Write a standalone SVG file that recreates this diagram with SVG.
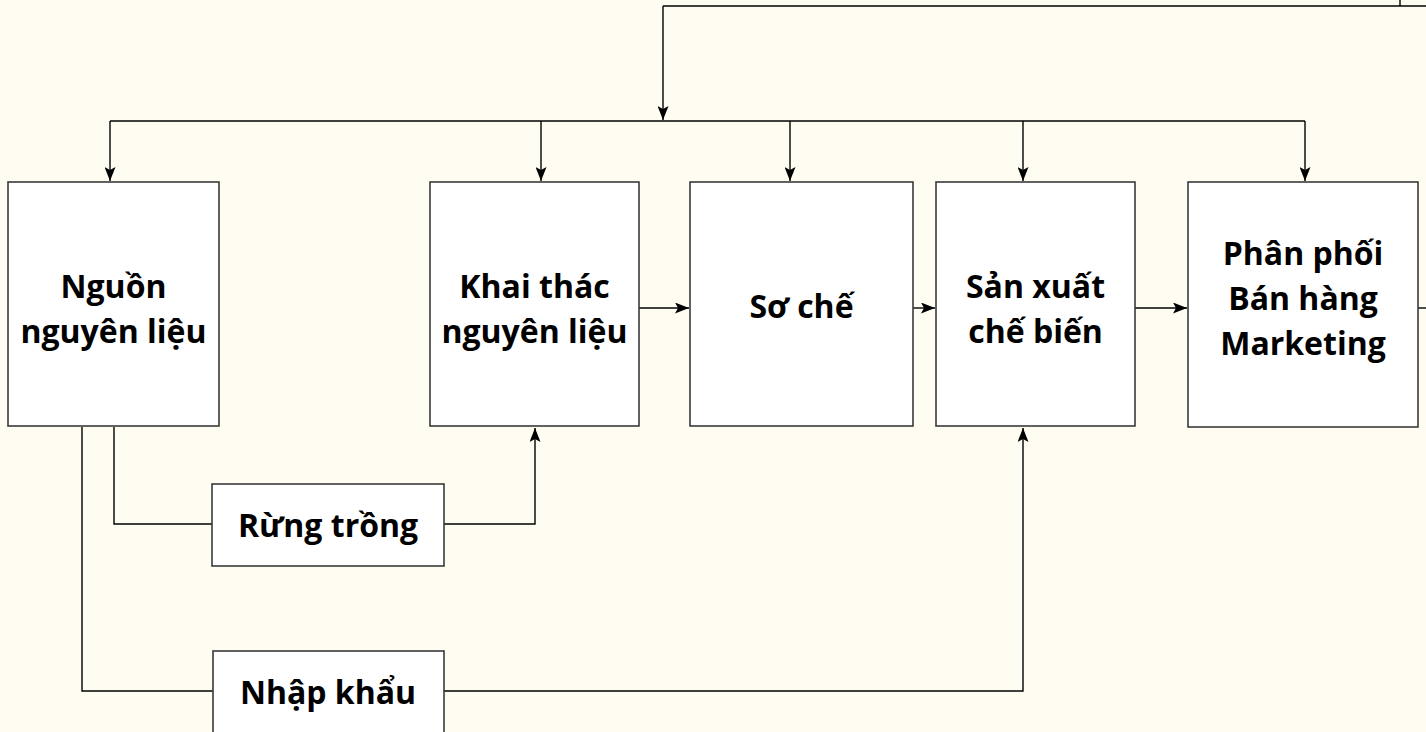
<svg xmlns="http://www.w3.org/2000/svg" width="1426" height="732" viewBox="0 0 1426 732">
<defs>
<marker id="arr" markerWidth="14" markerHeight="11" refX="14" refY="5.5" orient="auto" markerUnits="userSpaceOnUse">
<path d="M0,0 L14,5.5 L0,11 L3,5.5 Z" fill="#000"/>
</marker>
<style>
.box{fill:#fff;stroke:#3a3a3a;stroke-width:1.6}
.t{font-family:"Open Sans","Noto Sans","DejaVu Sans",sans-serif;font-weight:bold;font-size:32px;fill:#000;text-anchor:middle}
.c{fill:none;stroke:#000;stroke-width:1.4}
.ca{fill:none;stroke:#000;stroke-width:1.4;marker-end:url(#arr)}
</style>
</defs>
<rect width="1426" height="732" fill="#FFFDF2"/>
<g id="connectors">
<path class="c" d="M663,6 H1426 M1400,0 V6"/>
<path class="ca" d="M663,6 V120"/>
<path class="c" d="M110,121 H1305"/>
<path class="ca" d="M110,121 V181"/>
<path class="ca" d="M541,121 V181"/>
<path class="ca" d="M790,121 V181"/>
<path class="ca" d="M1023,121 V181"/>
<path class="ca" d="M1305,121 V181"/>
<path class="ca" d="M639,308 H689"/>
<path class="ca" d="M913,308 H935"/>
<path class="ca" d="M1135,308 H1187"/>
<path class="c" d="M1418,308 H1426"/>
<path class="c" d="M114,427 V524 H212"/>
<path class="ca" d="M444,524 H535 V428"/>
<path class="c" d="M82,427 V691 H213"/>
<path class="ca" d="M444,691 H1023 V428"/>
</g>
<g id="nguon">
<rect class="box" x="8" y="182" width="211" height="244"/>
<text class="t" x="113.5" y="298">Nguồn</text>
<text class="t" x="113.5" y="343">nguyên liệu</text>
</g>
<g id="khaithac">
<rect class="box" x="430" y="182" width="209" height="244"/>
<text class="t" x="534.5" y="298">Khai thác</text>
<text class="t" x="534.5" y="343">nguyên liệu</text>
</g>
<g id="soche">
<rect class="box" x="690" y="182" width="223" height="244"/>
<text class="t" x="801.5" y="318">Sơ chế</text>
</g>
<g id="sanxuat">
<rect class="box" x="936" y="182" width="199" height="244"/>
<text class="t" x="1035.5" y="298">Sản xuất</text>
<text class="t" x="1035.5" y="343">chế biến</text>
</g>
<g id="phanphoi">
<rect class="box" x="1188" y="182" width="230" height="245"/>
<text class="t" x="1303" y="265">Phân phối</text>
<text class="t" x="1303" y="310">Bán hàng</text>
<text class="t" x="1303" y="355">Marketing</text>
</g>
<g id="rungtrong">
<rect class="box" x="212" y="484" width="232" height="82"/>
<text class="t" x="328" y="537">Rừng trồng</text>
</g>
<g id="nhapkhau">
<rect class="box" x="213" y="651" width="231" height="100"/>
<text class="t" x="328" y="704">Nhập khẩu</text>
</g>
</svg>
